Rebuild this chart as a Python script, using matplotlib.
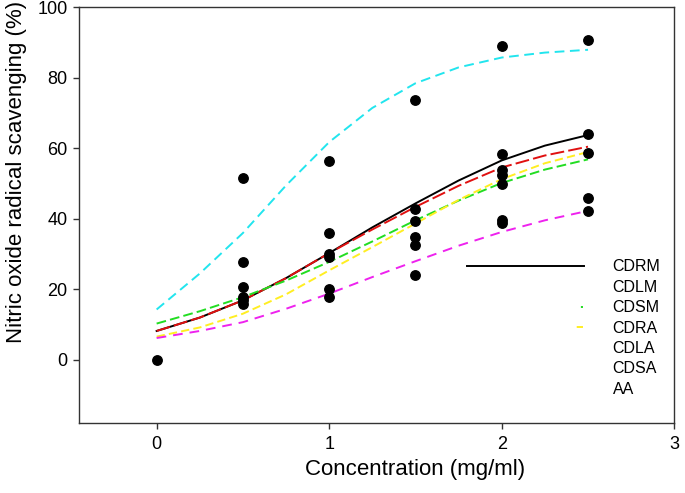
import matplotlib
matplotlib.use("Agg")
import matplotlib.pyplot as plt
from matplotlib.lines import Line2D

plt.rcParams["font.family"] = ["Liberation Sans", "DejaVu Sans"]
plt.rcParams["lines.scale_dashes"] = False

# measured points (concentration mg/ml, % scavenging)
pt_x = [0,
        0.5, 0.5, 0.5, 0.5, 0.5, 0.5,
        1, 1, 1, 1, 1, 1,
        1.5, 1.5, 1.5, 1.5, 1.5, 1.5,
        2, 2, 2, 2, 2, 2, 2,
        2.5, 2.5, 2.5, 2.5, 2.5]
pt_y = [0,
        51.5, 27.8, 20.7, 17.8, 16.9, 15.9,
        56.5, 36.0, 30.1, 29.2, 20.2, 17.8,
        73.7, 42.7, 39.3, 34.9, 32.5, 24.0,
        89.2, 58.4, 53.8, 52.4, 50.0, 39.6, 38.8,
        90.8, 64.0, 58.7, 45.8, 42.3]

# fitted curves
curve_x = [0, 0.25, 0.5, 0.75, 1, 1.25, 1.5, 1.75, 2, 2.25, 2.5]
cdrm = [8.2, 12.0, 16.9, 23.2, 30.3, 37.6, 44.4, 50.9, 56.6, 60.8, 63.8]
cdlm = [8.2, 12.0, 16.9, 23.2, 30.3, 37.0, 43.4, 49.4, 54.6, 58.0, 60.5]
cdsm = [10.3, 13.8, 17.8, 22.5, 27.8, 33.6, 39.6, 45.2, 50.2, 54.0, 56.9]
cdra = [6.6, 9.2, 13.1, 18.6, 25.4, 32.0, 38.7, 45.4, 51.3, 55.8, 59.0]
cdla = [6.2, 8.2, 10.7, 14.5, 18.8, 23.5, 28.0, 32.4, 36.3, 39.6, 42.3]
aa = [14.3, 24.5, 36.0, 49.5, 61.8, 71.5, 78.5, 83.0, 85.8, 87.2, 88.0]

legend_labels = ["CDRM", "CDLM", "CDSM", "CDRA", "CDLA", "CDSA", "AA"]

fig = plt.figure(figsize=(6.85, 4.93), dpi=100, facecolor="white")
ax = fig.add_axes([0.1153, 0.1414, 0.8691, 0.8434])

lw = 1.4
ax.plot(curve_x, cdrm, color="black", lw=lw, zorder=3)
ax.plot(curve_x, cdlm, color="#e01010", lw=lw, ls=(0, (10, 3)), zorder=3)
ax.plot(curve_x, cdsm, color="#22dd22", lw=lw, ls=(0, (7, 3)), zorder=3)
ax.plot(curve_x, cdra, color="#ffee22", lw=lw, ls=(0, (6, 3)), zorder=3)
ax.plot(curve_x, cdla, color="#ee22ee", lw=lw, ls=(0, (7, 5)), zorder=3)
ax.plot(curve_x, aa, color="#22e5ee", lw=lw, ls=(0, (7, 4)), zorder=3)

ax.plot(pt_x, pt_y, "o", color="black", ms=6.8, zorder=4)

ax.set_xlim(-0.45, 3)
ax.set_ylim(-18, 100)
ax.set_xticks([0, 1, 2, 3])
ax.set_yticks([0, 20, 40, 60, 80, 100])
ax.tick_params(direction="out", length=4.3, width=1, color="#333333",
               labelsize=13, pad=4)
ax.tick_params(axis="x", pad=5)
for s in ax.spines.values():
    s.set_color("#333333")
    s.set_linewidth(1)

ax.set_xlabel("Concentration (mg/ml)", fontsize=16)
ax.set_ylabel("Nitric oxide radical scavenging (%)", fontsize=16)
ax.xaxis.set_label_coords(0.565, -0.085)
ax.yaxis.set_label_coords(-0.088, 0.604)

# legend: handles rendered as in the original (mostly clipped dash patterns)
handles = [
    Line2D([], [], color="black", lw=lw),
    Line2D([], [], ls="None"),
    Line2D([], [], color="#22dd22", lw=lw, ls=(119.5, (1.5, 200))),
    Line2D([], [], color="#ffee22", lw=lw, ls=(125.5, (4.5, 200))),
    Line2D([], [], ls="None"),
    Line2D([], [], ls="None"),
    Line2D([], [], ls="None"),
]
ax.legend(handles, legend_labels, loc="upper left",
          bbox_to_anchor=(0.682, 0.474), bbox_transform=fig.transFigure,
          frameon=False, fontsize=11.5, handlelength=7.3,
          handletextpad=1.8, labelspacing=0.34, borderpad=0, borderaxespad=0)

fig.savefig("out.png", dpi=100, facecolor="white")
